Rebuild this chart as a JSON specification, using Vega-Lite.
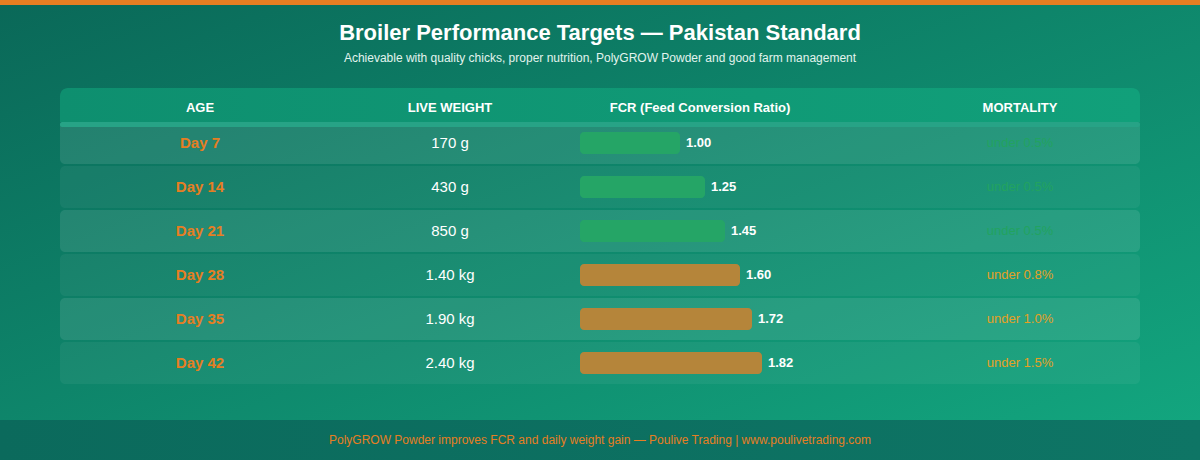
{
  "$schema": "https://vega.github.io/schema/vega-lite/v6.json",
  "width": 1200,
  "height": 460,
  "autosize": {"type": "fit", "contains": "padding"},
  "padding": 0,
  "background": "#0d7d66",
  "config": {
    "view": {
      "stroke": null,
      "fill": {
        "gradient": "linear", "x1": 0, "y1": 0, "x2": 1, "y2": 1,
        "stops": [{"offset": 0, "color": "#0a6858"}, {"offset": 1, "color": "#13a880"}]
      }
    },
    "font": "Liberation Sans"
  },
  "title": {
    "text": "Broiler Performance Targets — Pakistan Standard",
    "subtitle": "Achievable with quality chicks, proper nutrition, PolyGROW Powder and good farm management",
    "anchor": "middle",
    "frame": "group",
    "offset": -65,
    "font": "Liberation Sans",
    "fontSize": 22,
    "fontWeight": "bold",
    "color": "#ffffff",
    "subtitleFont": "Liberation Sans",
    "subtitleFontSize": 12,
    "subtitleColor": "#e2f4ee",
    "subtitlePadding": 8
  },
  "datasets": {
    "targets": [
      {"age": "Day 7", "weight": "170 g", "fcr": 1.00, "mortality": "under 0.5%"},
      {"age": "Day 14", "weight": "430 g", "fcr": 1.25, "mortality": "under 0.5%"},
      {"age": "Day 21", "weight": "850 g", "fcr": 1.45, "mortality": "under 0.5%"},
      {"age": "Day 28", "weight": "1.40 kg", "fcr": 1.60, "mortality": "under 0.8%"},
      {"age": "Day 35", "weight": "1.90 kg", "fcr": 1.72, "mortality": "under 1.0%"},
      {"age": "Day 42", "weight": "2.40 kg", "fcr": 1.82, "mortality": "under 1.5%"}
    ]
  },
  "data": {"name": "targets"},
  "transform": [{"window": [{"op": "row_number", "as": "row"}]}],
  "encoding": {
    "y": {
      "field": "age", "type": "nominal", "axis": null,
      "scale": {"type": "band", "domain": ["header", "Day 7", "Day 14", "Day 21", "Day 28", "Day 35", "Day 42"], "range": [78, 384], "paddingInner": 0.0455, "paddingOuter": 0}
    }
  },
  "layer": [
    {
      "data": {"values": [{}]},
      "mark": {"type": "rect", "color": "#e67e22"},
      "encoding": {
        "x": {"value": 0}, "x2": {"value": {"expr": "width"}},
        "y": {"value": 0}, "y2": {"value": 5}
      }
    },
    {
      "data": {"values": [{}]},
      "mark": {
        "type": "rect",
        "fill": {"gradient": "linear", "x1": 0, "y1": 0, "x2": 1, "y2": 0, "stops": [{"offset": 0, "color": "#0b6a5c"}, {"offset": 1, "color": "#0e7565"}]}
      },
      "encoding": {
        "x": {"value": 0}, "x2": {"value": {"expr": "width"}},
        "y": {"value": 420}, "y2": {"value": {"expr": "height"}}
      }
    },
    {
      "data": {"values": [{}]},
      "mark": {
        "type": "bar", "height": {"band": 0.81}, "yOffset": 6,
        "cornerRadiusTopLeft": 8, "cornerRadiusTopRight": 8,
        "fill": {"gradient": "linear", "x1": 0, "y1": 0, "x2": 1, "y2": 0, "stops": [{"offset": 0, "color": "#0e8f6f"}, {"offset": 1, "color": "#11a07a"}]}
      },
      "encoding": {
        "x": {"datum": -5.2, "type": "quantitative", "axis": null, "scale": {"domain": [-5.8, 6.2], "nice": false, "zero": false}},
        "x2": {"datum": 5.6},
        "y": {"datum": "header", "type": "nominal", "axis": null}
      }
    },
    {
      "mark": {"type": "rect", "fill": "#ffffff", "cornerRadius": 5},
      "encoding": {
        "x": {"datum": -5.2, "type": "quantitative", "axis": null, "scale": {"domain": [-5.8, 6.2], "nice": false, "zero": false}},
        "x2": {"datum": 5.6},
        "opacity": {"condition": {"test": "datum.row % 2 == 1", "value": 0.1}, "value": 0.05}
      }
    },
    {
      "data": {"values": [{}]},
      "mark": {"type": "bar", "height": 5, "yOffset": -18.5, "color": "#27a386", "cornerRadius": 2},
      "encoding": {
        "x": {"datum": -5.2, "type": "quantitative", "axis": null, "scale": {"domain": [-5.8, 6.2], "nice": false, "zero": false}},
        "x2": {"datum": 5.6},
        "y": {"datum": "Day 7", "type": "nominal", "axis": null}
      }
    },
    {
      "data": {"values": [{}]},
      "mark": {"type": "text", "color": "#ffffff", "fontSize": 13, "fontWeight": "bold", "dy": 9},
      "encoding": {
        "x": {"datum": -3.8, "type": "quantitative", "axis": null, "scale": {"domain": [-5.8, 6.2], "nice": false, "zero": false}},
        "y": {"datum": "header", "type": "nominal", "axis": null},
        "text": {"value": "AGE"}
      }
    },
    {
      "data": {"values": [{}]},
      "mark": {"type": "text", "color": "#ffffff", "fontSize": 13, "fontWeight": "bold", "dy": 9},
      "encoding": {
        "x": {"datum": -1.3, "type": "quantitative", "axis": null, "scale": {"domain": [-5.8, 6.2], "nice": false, "zero": false}},
        "y": {"datum": "header", "type": "nominal", "axis": null},
        "text": {"value": "LIVE WEIGHT"}
      }
    },
    {
      "data": {"values": [{}]},
      "mark": {"type": "text", "color": "#ffffff", "fontSize": 13, "fontWeight": "bold", "dy": 9},
      "encoding": {
        "x": {"datum": 1.2, "type": "quantitative", "axis": null, "scale": {"domain": [-5.8, 6.2], "nice": false, "zero": false}},
        "y": {"datum": "header", "type": "nominal", "axis": null},
        "text": {"value": "FCR (Feed Conversion Ratio)"}
      }
    },
    {
      "data": {"values": [{}]},
      "mark": {"type": "text", "color": "#ffffff", "fontSize": 13, "fontWeight": "bold", "dy": 9},
      "encoding": {
        "x": {"datum": 4.4, "type": "quantitative", "axis": null, "scale": {"domain": [-5.8, 6.2], "nice": false, "zero": false}},
        "y": {"datum": "header", "type": "nominal", "axis": null},
        "text": {"value": "MORTALITY"}
      }
    },
    {
      "mark": {"type": "text", "color": "#e67e22", "fontSize": 15, "fontWeight": "bold"},
      "encoding": {
        "x": {"datum": -3.8, "type": "quantitative", "axis": null, "scale": {"domain": [-5.8, 6.2], "nice": false, "zero": false}},
        "text": {"field": "age"}
      }
    },
    {
      "mark": {"type": "text", "color": "#ffffff", "fontSize": 15},
      "encoding": {
        "x": {"datum": -1.3, "type": "quantitative", "axis": null, "scale": {"domain": [-5.8, 6.2], "nice": false, "zero": false}},
        "text": {"field": "weight"}
      }
    },
    {
      "mark": {"type": "bar", "height": {"band": 0.52}, "cornerRadius": 4},
      "encoding": {
        "x": {"field": "fcr", "type": "quantitative", "axis": null, "scale": {"domain": [-5.8, 6.2], "nice": false, "zero": false}},
        "x2": {"datum": 0},
        "color": {"condition": {"test": "datum.fcr < 1.5", "value": "#25a566"}, "value": "#b5853a"}
      }
    },
    {
      "mark": {"type": "text", "color": "#ffffff", "fontSize": 13, "fontWeight": "bold", "align": "left", "dx": 6},
      "encoding": {
        "x": {"field": "fcr", "type": "quantitative", "axis": null, "scale": {"domain": [-5.8, 6.2], "nice": false, "zero": false}},
        "text": {"field": "fcr", "type": "quantitative", "format": ".2f"}
      }
    },
    {
      "mark": {"type": "text", "fontSize": 13},
      "encoding": {
        "x": {"datum": 4.4, "type": "quantitative", "axis": null, "scale": {"domain": [-5.8, 6.2], "nice": false, "zero": false}},
        "text": {"field": "mortality"},
        "color": {"condition": {"test": "datum.fcr < 1.5", "value": "#22a35f"}, "value": "#e5a024"}
      }
    },
    {
      "data": {"values": [{}]},
      "mark": {"type": "text", "color": "#e67e22", "fontSize": 12},
      "encoding": {
        "x": {"datum": 0.2, "type": "quantitative", "axis": null, "scale": {"domain": [-5.8, 6.2], "nice": false, "zero": false}},
        "y": {"value": 440},
        "text": {"value": "PolyGROW Powder improves FCR and daily weight gain — Poulive Trading | www.poulivetrading.com"}
      }
    }
  ]
}
